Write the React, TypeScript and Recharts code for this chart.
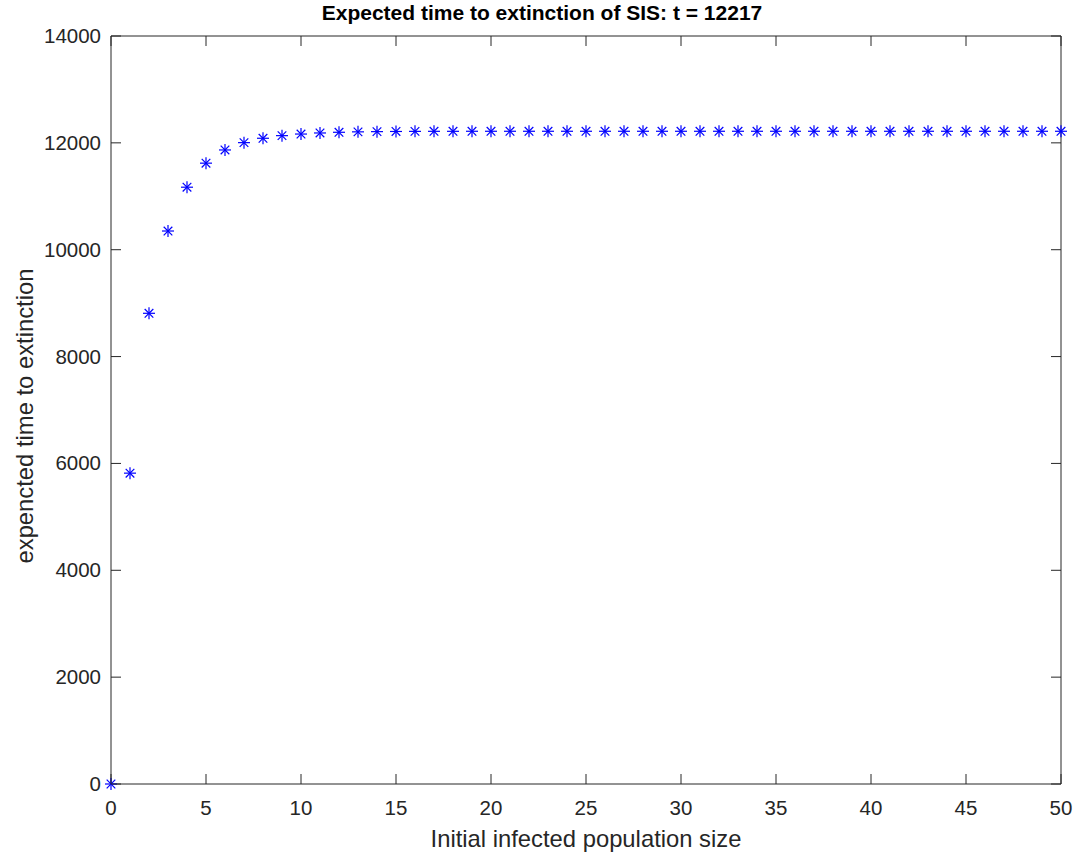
import React from 'react';
import { ScatterChart, Scatter, XAxis, YAxis, Label } from 'recharts';

const populationSizes = [
  0, 1, 2, 3, 4, 5, 6, 7, 8, 9, 10, 11, 12, 13, 14, 15, 16, 17, 18, 19, 20, 21, 22, 23, 24, 25,
  26, 27, 28, 29, 30, 31, 32, 33, 34, 35, 36, 37, 38, 39, 40, 41, 42, 43, 44, 45, 46, 47, 48, 49, 50,
];

const extinctionTimes = [
  0, 5818, 8810, 10350, 11170, 11620, 11867, 12004, 12086, 12135, 12165, 12185, 12198, 12206,
  12210, 12213, 12215, 12216, 12216, 12217, 12217, 12217, 12217, 12217, 12217, 12217, 12217,
  12217, 12217, 12217, 12217, 12217, 12217, 12217, 12217, 12217, 12217, 12217, 12217, 12217,
  12217, 12217, 12217, 12217, 12217, 12217, 12217, 12217, 12217, 12217, 12217,
];

const xTicks = [0, 5, 10, 15, 20, 25, 30, 35, 40, 45, 50];
const yTicks = [0, 2000, 4000, 6000, 8000, 10000, 12000, 14000];

const data = populationSizes.map((x, i) => ({ x, y: extinctionTimes[i] }));

const FONT = '"Liberation Sans", Arial, Helvetica, sans-serif';
const AXIS = '#262626';
const TICK_LEN = 10;
const TICK_FONT = 20.5;
const LABEL_FONT = 23.8;

const BottomTick = (props: any) => {
  const { x, y, payload } = props;
  return (
    <g>
      <line x1={x} y1={y} x2={x} y2={y - TICK_LEN} stroke={AXIS} />
      <text x={x} y={y + 31} textAnchor="middle" fill={AXIS} fontSize={TICK_FONT} fontFamily={FONT}>
        {payload.value}
      </text>
    </g>
  );
};

const TopTick = (props: any) => {
  const { x, y } = props;
  return <line x1={x} y1={y} x2={x} y2={y + TICK_LEN} stroke={AXIS} />;
};

const LeftTick = (props: any) => {
  const { x, y, payload } = props;
  return (
    <g>
      <line x1={x} y1={y} x2={x + TICK_LEN} y2={y} stroke={AXIS} />
      <text x={x - 10} y={y + 7} textAnchor="end" fill={AXIS} fontSize={TICK_FONT} fontFamily={FONT}>
        {payload.value}
      </text>
    </g>
  );
};

const RightTick = (props: any) => {
  const { x, y } = props;
  return <line x1={x} y1={y} x2={x - TICK_LEN} y2={y} stroke={AXIS} />;
};

// MATLAB-style '*' marker
const Asterisk = (props: any) => {
  const { cx, cy } = props;
  const r = 6;
  const d = 4.3;
  return (
    <g stroke="#0000ff" strokeWidth={1.2}>
      <line x1={cx - r} y1={cy} x2={cx + r} y2={cy} />
      <line x1={cx} y1={cy - r} x2={cx} y2={cy + r} />
      <line x1={cx - d} y1={cy - d} x2={cx + d} y2={cy + d} />
      <line x1={cx - d} y1={cy + d} x2={cx + d} y2={cy - d} />
    </g>
  );
};

const NoMarker = () => <g />;

export default function App() {
  return (
    <div style={{ position: 'absolute', left: 0, top: 0, width: 1077, height: 854, background: '#fff' }}>
      <div
        style={{
          position: 'absolute',
          left: 0,
          width: 1084,
          top: 1,
          textAlign: 'center',
          fontFamily: FONT,
          fontWeight: 'bold',
          fontSize: 21,
          color: '#000',
        }}
      >
        Expected time to extinction of SIS: t = 12217
      </div>
      <ScatterChart width={1077} height={854} margin={{ top: 35, right: 15, bottom: 0, left: 0 }}>
        <XAxis
          dataKey="x"
          type="number"
          domain={[0, 50]}
          ticks={xTicks}
          interval={0}
          height={70}
          stroke={AXIS}
          tickLine={false}
          tickSize={0}
          tickMargin={0}
          tick={BottomTick}
        >
          <Label
            value="Initial infected population size"
            position="insideBottom"
            offset={7}
            fill={AXIS}
            fontSize={LABEL_FONT}
            fontFamily={FONT}
          />
        </XAxis>
        <XAxis
          xAxisId="top"
          dataKey="x"
          orientation="top"
          type="number"
          domain={[0, 50]}
          ticks={xTicks}
          interval={0}
          height={1}
          stroke={AXIS}
          tickLine={false}
          tickSize={0}
          tickMargin={0}
          tick={TopTick}
        />
        <YAxis
          dataKey="y"
          type="number"
          domain={[0, 14000]}
          ticks={yTicks}
          interval={0}
          width={111}
          stroke={AXIS}
          tickLine={false}
          tickSize={0}
          tickMargin={0}
          tick={LeftTick}
        >
          <Label
            content={(p: any) => {
              const vb = p.viewBox;
              const cx = 33;
              const cy = vb.y + vb.height / 2 + 6;
              return (
                <text
                  x={cx}
                  y={cy}
                  transform={`rotate(-90, ${cx}, ${cy})`}
                  textAnchor="middle"
                  fill={AXIS}
                  fontSize={LABEL_FONT}
                  fontFamily={FONT}
                >
                  expencted time to extinction
                </text>
              );
            }}
          />
        </YAxis>
        <YAxis
          yAxisId="right"
          dataKey="y"
          orientation="right"
          type="number"
          domain={[0, 14000]}
          ticks={yTicks}
          interval={0}
          width={1}
          stroke={AXIS}
          tickLine={false}
          tickSize={0}
          tickMargin={0}
          tick={RightTick}
        />
        {/* same series on the mirrored axes so the box and its ticks get drawn */}
        <Scatter data={data} xAxisId="top" yAxisId="right" shape={NoMarker} isAnimationActive={false} />
        <Scatter data={data} shape={Asterisk} isAnimationActive={false} />
      </ScatterChart>
    </div>
  );
}
